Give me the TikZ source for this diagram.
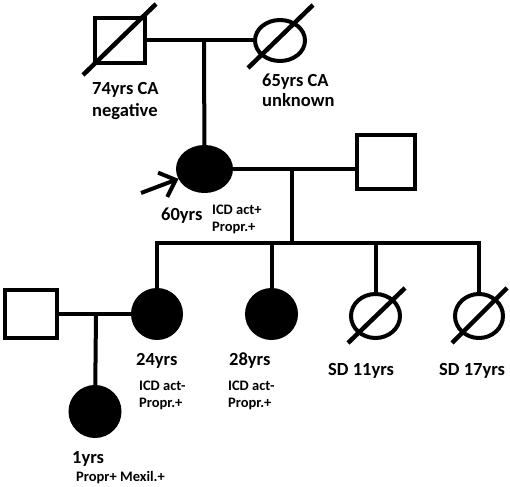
\documentclass[tikz,border=0pt]{standalone}
\usepackage{fontspec}
\setmainfont{Carlito}
\usetikzlibrary{arrows.meta,positioning,shapes.geometric,calc}
\newcommand{\agefont}{\bfseries\fontsize{18.5}{22}\selectfont}
\newcommand{\notefont}{\bfseries\fontsize{14.5}{17}\selectfont}
\tikzset{
  male/.style={draw=black, rectangle, line width=4pt, inner sep=0pt, fill=white},
  female/.style={draw=black, ellipse, line width=4pt, inner sep=0pt, fill=white},
  affected/.style={fill=black},
  link/.style={line width=4pt},
  dead/.style={line width=4.5pt},
  age/.style={font=\agefont, anchor=base west, inner sep=0pt},
  note/.style={font=\notefont, anchor=base west, inner sep=0pt},
  probarrow/.style={-{Straight Barb[length=14pt,width=26pt]}, line width=4pt}
}

\begin{document}
\begin{tikzpicture}[x=1pt, y=-1pt]
\useasboundingbox (0,0) rectangle (510,486);
% grandparents
\node[male, minimum width=50, minimum height=45] (gf) at (120,40.5) {};
\node[female, minimum width=50, minimum height=41] (gm) at (280,40.5) {};
\draw[link] (gf) -- (gm);
\draw[dead] ($(gf)+(-37,34.5)$) -- ($(gf)+(36,-36.5)$);
\draw[dead] ($(gm)+(-32,27.5)$) -- ($(gm)+(33,-35.5)$);
\node[age] (gfage) at (92,95) {74yrs CA};
\node[age] (gfca) at (92,117) {negative};
\node[age] (gmage) at (262,87) {65yrs CA};
\node[age] (gmca) at (262,107) {unknown};
% proband and husband
\node[female, affected, minimum width=53, minimum height=44] (prob) at (204.5,169) {};
\node[male, minimum width=58, minimum height=54] (hus) at (386,162) {};
\coordinate (m1) at (204,40.5);
\draw[link] (m1) -- (prob);
\draw[link] (prob) -- (prob -| hus.west);
\coordinate (pa) at (141,193);
\draw[probarrow] (pa) -- (prob);
\node[age] (probage) at (161,220) {60yrs};
\node[note] (probicd) at (212,214) {ICD act+};
\node[note] (probdrug) at (212,231) {Propr.+};
% children
\node[female, affected, minimum width=48, minimum height=48] (d24) at (157,314) {};
\node[female, affected, minimum width=49, minimum height=48] (d28) at (271.5,314) {};
\node[female, minimum width=49, minimum height=44] (sd11) at (375.5,316) {};
\node[female, minimum width=48, minimum height=44] (sd17) at (479,316) {};
\coordinate (m2) at (292,169);
\coordinate (sib) at (292,243);
\draw[link] (m2) -- (sib);
\draw[link] (d24) |- (sd17 |- sib) -- (sd17);
\draw[link] (d28 |- sib) -- (d28);
\draw[link] (sd11 |- sib) -- (sd11);
\draw[dead] ($(sd11)+(-27.5,27)$) -- ($(sd11)+(29.5,-28)$);
\draw[dead] ($(sd17)+(-27,27)$) -- ($(sd17)+(28,-28)$);
\node[age] (d24age) at (136,365) {24yrs};
\node[note] (d24icd) at (139,390) {ICD act-};
\node[note] (d24drug) at (139,407) {Propr.+};
\node[age] (d28age) at (229,365) {28yrs};
\node[note] (d28icd) at (228,390) {ICD act-};
\node[note] (d28drug) at (228,407) {Propr.+};
\node[age] (sd11age) at (328,375) {SD 11yrs};
\node[age] (sd17age) at (439,375) {SD 17yrs};
% grandchild
\node[male, minimum width=52, minimum height=48] (sp) at (31,314) {};
\node[female, affected, minimum width=49, minimum height=49] (ch1) at (95,411.5) {};
\draw[link] (sp) -- (d24);
\coordinate (m3) at (96,314);
\draw[link] (m3) -- (ch1);
\node[age] (ch1age) at (72,463) {1yrs};
\node[note] (ch1drug) at (76,481) {Propr+ Mexil.+};
\end{tikzpicture}
\end{document}
